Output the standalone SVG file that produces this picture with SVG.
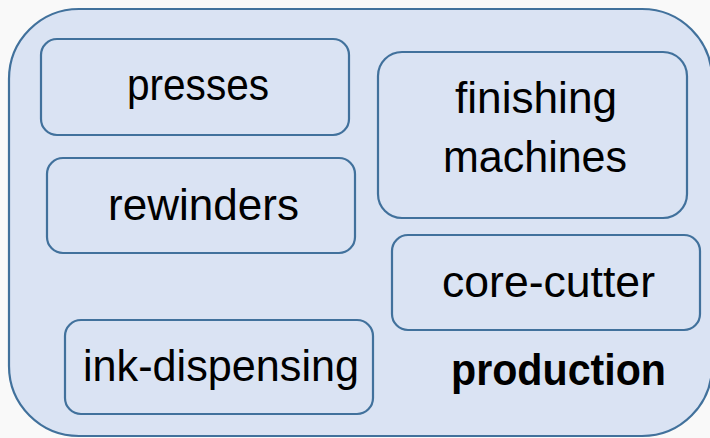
<svg xmlns="http://www.w3.org/2000/svg" width="710" height="438" viewBox="0 0 710 438">
<style>
.box{fill:#DAE3F3;stroke:#41719C;stroke-width:2.2}
.t{font-family:"Liberation Sans",Arial,sans-serif;font-size:44px;fill:#000;text-anchor:start}
.b{font-weight:bold}
</style>
<rect x="0" y="0" width="710" height="438" fill="#f9f9f9"/>
<g id="production">
<rect class="box" x="9" y="9" width="703" height="427" rx="70" ry="70"/>
<text class="t b" x="451" y="385" textLength="215" lengthAdjust="spacingAndGlyphs">production</text>
</g>
<g id="presses">
<rect class="box" x="41" y="39" width="308" height="96" rx="16"/>
<text class="t" x="127" y="100" textLength="142" lengthAdjust="spacingAndGlyphs">presses</text>
</g>
<g id="rewinders">
<rect class="box" x="47" y="158" width="308" height="95" rx="16"/>
<text class="t" x="108" y="220" textLength="191" lengthAdjust="spacingAndGlyphs">rewinders</text>
</g>
<g id="finishing">
<rect class="box" x="378" y="52" width="309" height="166" rx="24"/>
<text class="t" x="455" y="113" textLength="162" lengthAdjust="spacingAndGlyphs">finishing</text>
<text class="t" x="443" y="172" textLength="184" lengthAdjust="spacingAndGlyphs">machines</text>
</g>
<g id="core-cutter">
<rect class="box" x="392" y="235" width="308" height="95" rx="16"/>
<text class="t" x="442" y="297" textLength="213" lengthAdjust="spacingAndGlyphs">core-cutter</text>
</g>
<g id="ink-dispensing">
<rect class="box" x="65" y="320" width="308" height="94" rx="16"/>
<text class="t" x="83" y="381" textLength="276" lengthAdjust="spacingAndGlyphs">ink-dispensing</text>
</g>
<g id="connectors"></g>
</svg>
